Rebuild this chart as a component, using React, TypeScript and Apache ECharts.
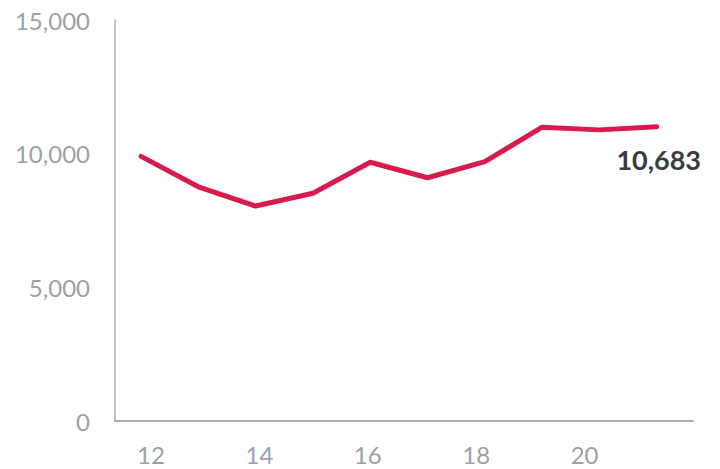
import React, { useEffect, useRef } from "react";
import * as echarts from "echarts";

const years = [12, 13, 14, 15, 16, 17, 18, 19, 20, 21];
const values = [9900, 8760, 8040, 8520, 9680, 9100, 9700, 10990, 10890, 11010];
const xTickLabels = [12, 14, 16, 18, 20];
const yTicks = [0, 5000, 10000, 15000];
const lastLabel = "10,683";

export default function App() {
  const ref = useRef<HTMLDivElement>(null);
  useEffect(() => {
    if (!ref.current) return;
    const chart = echarts.init(ref.current, null, { renderer: "svg" });
    const tickFont = {
      color: "#9aa1a9",
      fontSize: 24,
      fontFamily: "Lato",
      fontWeight: "normal" as any,
    };
    chart.setOption({
      animation: false,
      grid: { left: 115, right: 27, top: 20, bottom: 48, containLabel: false },
      xAxis: [
        {
          type: "value",
          min: 11.546,
          max: 21.633,
          axisLine: { show: true, lineStyle: { color: "#a9aeb4", width: 2 } },
          axisTick: { show: false },
          axisLabel: { show: false },
          splitLine: { show: false },
        },
        {
          type: "value",
          position: "bottom",
          min: 11.336,
          max: 22,
          axisLine: { show: false },
          axisTick: { show: false },
          splitLine: { show: false },
          axisLabel: {
            ...tickFont,
            margin: 21,
            customValues: xTickLabels,
            formatter: (v: number) => String(v),
          },
        },
      ],
      yAxis: {
        type: "value",
        min: yTicks[0],
        max: yTicks[yTicks.length - 1],
        interval: 5000,
        axisLine: { show: true, lineStyle: { color: "#a9aeb4", width: 1.5 } },
        axisTick: { show: false },
        splitLine: { show: false },
        axisLabel: {
          ...tickFont,
          margin: 25,
          formatter: (v: number) => v.toLocaleString("en-US"),
        },
      },
      series: [
        {
          type: "line",
          xAxisIndex: 0,
          data: years.map((y, i) => [y, values[i]]),
          showSymbol: false,
          lineStyle: { color: "#d91a4d", width: 5, cap: "round", join: "round" },
        },
      ],
    });
    const n = years.length - 1;
    const p = chart.convertToPixel({ xAxisIndex: 0, yAxisIndex: 0 }, [years[n], values[n]]);
    chart.setOption({
      graphic: [
        {
          type: "text",
          x: p[0] + 2,
          y: p[1] + 33,
          style: {
            text: lastLabel,
            align: "center",
            verticalAlign: "middle",
            fill: "#3b3b3d",
            fontSize: 27,
            fontWeight: "bold",
            fontFamily: "Lato",
          },
        },
      ],
    });
    return () => chart.dispose();
  }, []);
  return (
    <div
      ref={ref}
      style={{ position: "fixed", left: 0, top: 0, width: 720, height: 469, background: "#fff" }}
    />
  );
}
